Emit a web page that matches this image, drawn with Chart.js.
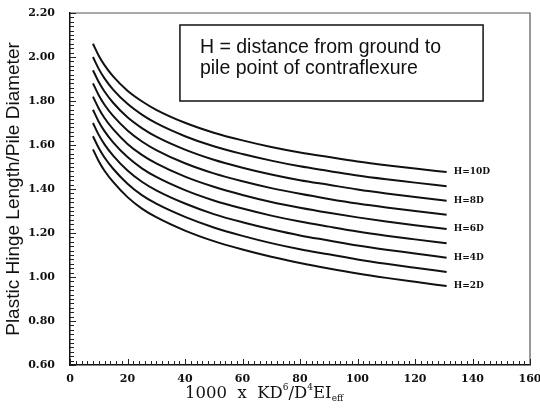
<!DOCTYPE html>
<html>
<head>
<meta charset="utf-8">
<script src="https://cdn.jsdelivr.net/npm/chart.js@4.4.1/dist/chart.umd.min.js"></script>
<style>
    html, body { margin: 0; padding: 0; background: #fff; }
    #wrap { width: 540px; height: 409px; }
</style>
</head>
<body>
<div id="wrap"><canvas id="chart"></canvas></div>
<script>
const xValues = [8, 10, 12, 15, 20, 25, 30, 40, 50, 60, 70, 80, 90, 100, 110, 120, 131];

// curve names, top to bottom
const seriesNames = ['H=10D', 'H=9D', 'H=8D', 'H=7D', 'H=6D', 'H=5D', 'H=4D', 'H=3D', 'H=2D'];
// which curves carry a label at their right end
const labeledSeries = ['H=10D', 'H=8D', 'H=6D', 'H=4D', 'H=2D'];

const h10 = [2.060, 2.006, 1.963, 1.912, 1.847, 1.799, 1.760, 1.701, 1.656, 1.621, 1.591, 1.566, 1.545, 1.525, 1.508, 1.493, 1.477];
const h9  = [2.000, 1.946, 1.903, 1.852, 1.787, 1.738, 1.699, 1.640, 1.594, 1.559, 1.529, 1.503, 1.482, 1.461, 1.444, 1.429, 1.412];
const h8  = [1.940, 1.886, 1.843, 1.792, 1.726, 1.677, 1.638, 1.579, 1.533, 1.497, 1.466, 1.440, 1.419, 1.398, 1.380, 1.364, 1.347];
const h7  = [1.880, 1.826, 1.783, 1.732, 1.666, 1.616, 1.577, 1.517, 1.471, 1.435, 1.404, 1.378, 1.355, 1.334, 1.316, 1.300, 1.283];
const h6  = [1.820, 1.766, 1.723, 1.672, 1.605, 1.555, 1.516, 1.456, 1.410, 1.373, 1.341, 1.315, 1.292, 1.271, 1.252, 1.235, 1.218];
const h5  = [1.760, 1.706, 1.663, 1.612, 1.545, 1.494, 1.455, 1.395, 1.348, 1.311, 1.279, 1.252, 1.229, 1.207, 1.188, 1.171, 1.153];
const h4  = [1.700, 1.646, 1.603, 1.552, 1.484, 1.433, 1.394, 1.334, 1.286, 1.249, 1.217, 1.189, 1.166, 1.143, 1.124, 1.107, 1.088];
const h3  = [1.640, 1.586, 1.543, 1.492, 1.424, 1.372, 1.333, 1.273, 1.225, 1.187, 1.154, 1.126, 1.103, 1.080, 1.060, 1.042, 1.023];
const h2  = [1.580, 1.526, 1.483, 1.432, 1.363, 1.311, 1.272, 1.211, 1.163, 1.125, 1.092, 1.064, 1.039, 1.016, 0.996, 0.978, 0.959];
const seriesValues = [h10, h9, h8, h7, h6, h5, h4, h3, h2];

// axis ticks
const xTickValues = [0, 20, 40, 60, 80, 100, 120, 140, 160];
const xTickLabels = ['0', '20', '40', '60', '80', '100', '120', '140', '160'];
const yTickValues = [0.6, 0.8, 1.0, 1.2, 1.4, 1.6, 1.8, 2.0, 2.2];
const yTickLabels = ['0.60', '0.80', '1.00', '1.20', '1.40', '1.60', '1.80', '2.00', '2.20'];

const noteLines = ['H = distance from ground to', 'pile point of contraflexure'];
const yTitle = 'Plastic Hinge Length/Pile Diameter';

// frame, inward minor ticks, curve labels, note box, x title
const decorPlugin = {
    id: 'decor',
    afterDraw(chart) {
        const ctx = chart.ctx;
        const area = chart.chartArea;
        const xs = chart.scales.x;
        const ys = chart.scales.y;
        ctx.save();

        // frame top/right
        ctx.strokeStyle = '#555';
        ctx.lineWidth = 1.2;
        ctx.beginPath();
        ctx.moveTo(area.left, area.top);
        ctx.lineTo(area.right, area.top);
        ctx.lineTo(area.right, area.bottom);
        ctx.stroke();

        // minor ticks pointing into the plot
        ctx.strokeStyle = '#222';
        ctx.lineWidth = 1;
        ctx.beginPath();
        for (let v = 0; v <= 160; v += 2) {
            const px = Math.round(xs.getPixelForValue(v)) + 0.5;
            const len = v % 20 === 0 ? 6 : 4;
            ctx.moveTo(px, area.bottom);
            ctx.lineTo(px, area.bottom - len);
        }
        for (let i = 0; i <= 80; i++) {
            const v = 0.6 + i * 0.02;
            const py = Math.round(ys.getPixelForValue(v)) + 0.5;
            const len = i % 10 === 0 ? 6 : 4;
            ctx.moveTo(area.left, py);
            ctx.lineTo(area.left + len, py);
        }
        ctx.stroke();

        // curve labels at the right end
        ctx.fillStyle = '#111';
        ctx.font = 'bold 9px "DejaVu Serif"';
        ctx.textAlign = 'left';
        ctx.textBaseline = 'middle';
        chart.data.datasets.forEach((ds, i) => {
            if (!labeledSeries.includes(ds.label)) return;
            const meta = chart.getDatasetMeta(i);
            const last = meta.data[meta.data.length - 1];
            ctx.fillText(ds.label, last.x + 7, last.y);
        });

        // note box
        const bx = area.left + (area.right - area.left) * 0.239;
        const by = area.top + 12;
        const bw = (area.right - area.left) * 0.659;
        const bh = 76;
        ctx.fillStyle = '#fff';
        ctx.fillRect(bx, by, bw, bh);
        ctx.strokeStyle = '#111';
        ctx.lineWidth = 1.5;
        ctx.strokeRect(bx, by, bw, bh);
        ctx.fillStyle = '#111';
        ctx.font = '19.5px "Liberation Sans", Arial, sans-serif';
        ctx.textBaseline = 'alphabetic';
        ctx.fillText(noteLines[0], bx + 20, by + 28);
        ctx.fillText(noteLines[1], bx + 20, by + 49);

        // x axis title: 1000 x KD^6/D^4 EI_eff
        const base = chart.height - 11;
        let x = area.left + 115;
        const big = '16.5px "DejaVu Serif"';
        const small = '9px "DejaVu Serif"';
        const parts = [
            ['1000', big, 0], ['  x  ', big, 0], ['KD', big, 0], ['6', small, -8],
            ['/D', big, 0], ['4', small, -8], ['EI', big, 0], ['eff', small, 3]
        ];
        parts.forEach(([t, f, dy]) => {
            ctx.font = f;
            ctx.fillText(t, x, base + dy);
            x += ctx.measureText(t).width;
        });

        ctx.restore();
    }
};

const datasets = seriesNames.map((name, i) => ({
    label: name,
    data: xValues.map((x, j) => ({ x: x, y: seriesValues[i][j] })),
    borderColor: '#111',
    borderWidth: 2,
    pointRadius: 0,
    fill: false,
    cubicInterpolationMode: 'monotone'
}));

new Chart(document.getElementById('chart').getContext('2d'), {
    type: 'line',
    data: { datasets: datasets },
    options: {
        responsive: true,
        maintainAspectRatio: false,
        animation: false,
        layout: { padding: { top: 13, right: 10, left: 0, bottom: 0 } },
        plugins: {
            legend: { display: false },
            tooltip: { enabled: false }
        },
        scales: {
            x: {
                type: 'linear',
                min: 0,
                max: 160,
                afterBuildTicks: (scale) => { scale.ticks = xTickValues.map(v => ({ value: v })); },
                afterFit: (scale) => {
                    scale.height = 44;
                    scale.paddingLeft = 0;
                    scale.paddingRight = 0;
                },
                grid: { display: false, drawTicks: false, tickLength: 0 },
                border: { display: true, color: '#111', width: 1.5 },
                ticks: {
                    color: '#111',
                    font: { family: 'DejaVu Serif', size: 11, weight: 'bold' },
                    padding: 8,
                    maxRotation: 0,
                    callback: (v) => xTickLabels[xTickValues.indexOf(v)]
                }
            },
            y: {
                type: 'linear',
                min: 0.6,
                max: 2.2,
                afterBuildTicks: (scale) => { scale.ticks = yTickValues.map(v => ({ value: v })); },
                afterFit: (scale) => {
                    scale.width = 70;
                    scale.paddingTop = 0;
                    scale.paddingBottom = 0;
                },
                grid: { display: false, drawTicks: false, tickLength: 0 },
                border: { display: true, color: '#111', width: 1.5 },
                title: {
                    display: true,
                    text: yTitle,
                    color: '#111',
                    font: { family: 'Liberation Sans', size: 19 },
                    padding: { top: 2, bottom: 0 }
                },
                ticks: {
                    color: '#111',
                    font: { family: 'DejaVu Serif', size: 11, weight: 'bold' },
                    padding: 15,
                    callback: (v) => {
                        const k = yTickValues.findIndex(t => Math.abs(t - v) < 1e-6);
                        return yTickLabels[k];
                    }
                }
            }
        }
    },
    plugins: [decorPlugin]
});
</script>
</body>
</html>
